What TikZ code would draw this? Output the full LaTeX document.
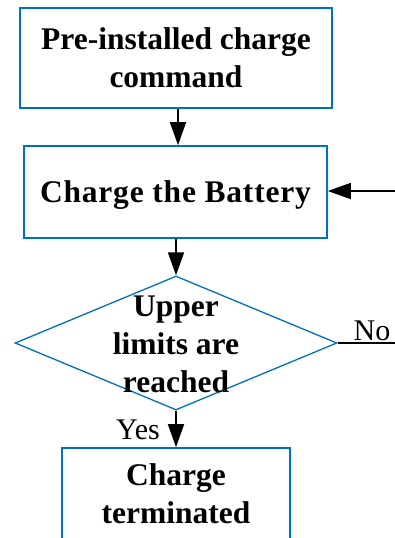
\documentclass[tikz,border=0pt]{standalone}
\usepackage{fontspec}
\setmainfont{Liberation Serif}
\usetikzlibrary{arrows.meta,shapes.geometric}
\definecolor{vblue}{RGB}{0,112,192}
\begin{document}
\begin{tikzpicture}[x=1pt,y=-1pt,
  box/.style={draw=vblue,line width=1.6pt,inner sep=0pt,align=center,
    font=\bfseries\fontsize{31.5}{38}\selectfont},
  dec/.style={draw=vblue,line width=1.3pt,shape=diamond,inner sep=0pt,
    minimum width=322pt,minimum height=134pt},
  lbl/.style={font=\fontsize{30}{36}\selectfont,inner sep=0pt},
  arr/.style={line width=1.6pt,-{Triangle[length=23pt,width=16pt]}},
  ln/.style={line width=1.3pt}]
\clip (0,0) rectangle (395,538);
\node[box,minimum width=312pt,minimum height=100pt] (b1) at (176,58)
  {Pre-installed charge\\command};
\node[box,minimum width=303pt,minimum height=92pt,text depth=0pt] (b2) at (175.5,192)
  {\addfontfeature{LetterSpace=2.5}Charge the Battery};
\node[dec] (d) at (176,343) {};
\node[align=center,inner sep=0pt,font=\bfseries\fontsize{31.5}{38}\selectfont] (dt) at (176,344)
  {Upper\\limits are\\reached};
\node[box,minimum width=228pt,minimum height=92pt] (b3) at (176,494)
  {Charge\\terminated};
\coordinate (inR) at (395,191);
\coordinate (noR) at (395,343);
\draw[arr] (b1.south -| 178,0) -- (b2.north -| 178,0);
\draw[arr] (b2.south -| d.north) -- (d.north);
\draw[arr] (inR) -- (b2.east |- inR);
\draw[ln] (d.east) -- (noR);
\draw[arr] (d.south) -- (b3.north);
\node[lbl,anchor=base] (no) at (372,340) {No};
\node[lbl,anchor=base east] (yes) at (160,439) {Yes};
\end{tikzpicture}
\end{document}
